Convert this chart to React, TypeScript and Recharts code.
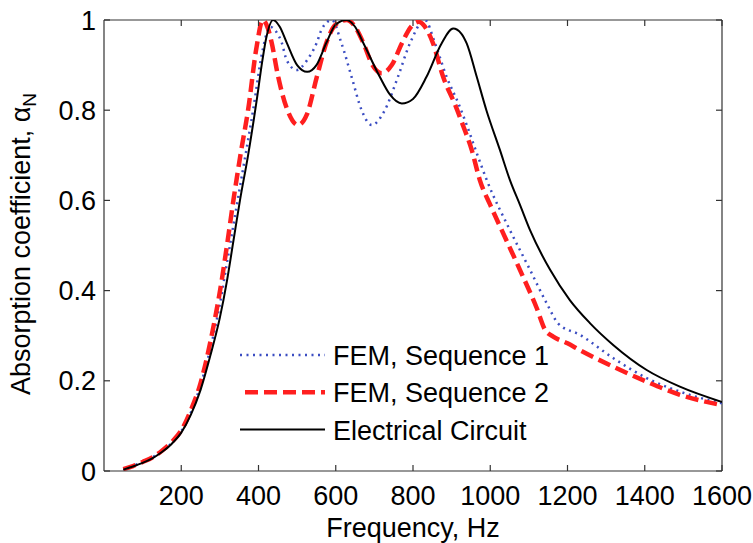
import React from 'react';
import { LineChart, Line, XAxis, YAxis, Legend, ReferenceLine } from 'recharts';

// ---- Data ----
const seq1Freq = [50, 75, 100, 125, 150, 175, 200, 225, 250, 275, 300, 320, 350, 386, 410, 430, 445, 460, 473, 499, 525, 551, 564, 590, 615, 641, 667, 693, 727, 761, 792, 831, 857, 887, 920, 940, 965, 991, 1051, 1103, 1146, 1176, 1232, 1319, 1405, 1491, 1600];
const seq1Alpha = [0.004, 0.011, 0.02, 0.03, 0.044, 0.062, 0.088, 0.13, 0.19, 0.27, 0.37, 0.47, 0.62, 0.8, 0.93, 0.985, 0.975, 0.95, 0.911, 0.889, 0.91, 0.95, 0.98, 1.0, 0.948, 0.874, 0.8, 0.767, 0.8, 0.874, 0.948, 1.0, 0.948, 0.874, 0.81, 0.765, 0.705, 0.645, 0.534, 0.446, 0.372, 0.327, 0.302, 0.25, 0.206, 0.176, 0.15];

const seq2Freq = [50, 75, 100, 125, 150, 175, 200, 225, 250, 275, 305, 320, 335, 355, 373, 395, 411, 425, 434, 451, 475, 502, 525, 551, 576, 600, 628, 650, 671, 695, 719, 745, 771, 795, 814, 835, 852, 878, 910, 930, 952, 973, 1000, 1040, 1080, 1120, 1142, 1163, 1200, 1232, 1319, 1405, 1491, 1600];
const seq2Alpha = [0.004, 0.011, 0.02, 0.03, 0.045, 0.064, 0.09, 0.135, 0.195, 0.285, 0.424, 0.51, 0.6, 0.71, 0.8, 0.94, 1.0, 0.98, 0.95, 0.874, 0.8, 0.767, 0.79, 0.874, 0.95, 0.99, 1.0, 0.985, 0.95, 0.9, 0.882, 0.9, 0.948, 0.985, 0.996, 0.98, 0.948, 0.874, 0.81, 0.765, 0.712, 0.645, 0.59, 0.515, 0.44, 0.362, 0.313, 0.298, 0.283, 0.268, 0.231, 0.198, 0.169, 0.146];

const circuitFreq = [50, 75, 100, 125, 150, 175, 200, 225, 250, 275, 300, 318, 335, 352, 373, 395, 410, 420, 438, 455, 473, 500, 526, 550, 576, 600, 628, 650, 672, 714, 740, 771, 800, 835, 874, 904, 925, 939, 965, 990, 1025, 1051, 1077, 1103, 1155, 1206, 1258, 1319, 1405, 1491, 1600];
const circuitAlpha = [0.003, 0.01, 0.018, 0.028, 0.042, 0.06, 0.085, 0.125, 0.18, 0.255, 0.34, 0.42, 0.51, 0.6, 0.7, 0.82, 0.91, 0.96, 1.0, 0.985, 0.95, 0.9, 0.885, 0.9, 0.95, 0.99, 1.0, 0.985, 0.948, 0.874, 0.835, 0.815, 0.825, 0.874, 0.948, 0.981, 0.97, 0.948, 0.874, 0.8, 0.712, 0.645, 0.59, 0.534, 0.446, 0.379, 0.328, 0.279, 0.224, 0.187, 0.153];

const xTicks = [200, 400, 600, 800, 1000, 1200, 1400, 1600];
const yTicks = [0, 0.2, 0.4, 0.6, 0.8, 1];
const yTickLabels = ['0', '0.2', '0.4', '0.6', '0.8', '1'];
const seriesNames = ['FEM, Sequence 1', 'FEM, Sequence 2', 'Electrical Circuit'];

// ---- Layout & styling ----
const W = 753;
const H = 543;
const PLOT_LEFT = 104;
const PLOT_TOP = 20;
const PLOT_RIGHT = 722;
const PLOT_BOTTOM = 471;
const TICK_LEN = 6;
const FONT = '"Liberation Sans", Arial, Helvetica, sans-serif';
const FS = 27;
const AXIS_COLOR = '#333';
const seriesStyles = [
  { color: '#3b4dc2', width: 2.5, dash: '2 4.5' },
  { color: '#ff1f1f', width: 4.5, dash: '13 6' },
  { color: '#000000', width: 2, dash: undefined as string | undefined },
];

const toPoints = (f: number[], a: number[]) => f.map((x, i) => ({ f: x, a: a[i] }));
const seriesData = [
  toPoints(seq1Freq, seq1Alpha),
  toPoints(seq2Freq, seq2Alpha),
  toPoints(circuitFreq, circuitAlpha),
];

// Bottom axis tick: label + inward ticks on bottom and top edges
const XTick = (p: any) => {
  const x = p.x;
  return (
    <g>
      <line x1={x} x2={x} y1={PLOT_BOTTOM} y2={PLOT_BOTTOM - TICK_LEN} stroke={AXIS_COLOR} strokeWidth={1.2} />
      <line x1={x} x2={x} y1={PLOT_TOP} y2={PLOT_TOP + TICK_LEN} stroke={AXIS_COLOR} strokeWidth={1.2} />
      <text x={x} y={PLOT_BOTTOM + 34} textAnchor="middle" fontSize={FS} fill="#000" style={{ fontFamily: FONT }}>
        {p.payload.value}
      </text>
    </g>
  );
};

// Left axis tick: label + inward ticks on left and right edges
const YTick = (p: any) => {
  const y = p.y;
  const v = p.payload.value;
  const label = yTickLabels[yTicks.indexOf(v)] ?? String(v);
  return (
    <g>
      <line x1={PLOT_LEFT} x2={PLOT_LEFT + TICK_LEN} y1={y} y2={y} stroke={AXIS_COLOR} strokeWidth={1.2} />
      <line x1={PLOT_RIGHT} x2={PLOT_RIGHT - TICK_LEN} y1={y} y2={y} stroke={AXIS_COLOR} strokeWidth={1.2} />
      <text x={PLOT_LEFT - 8} y={y + 9.5} textAnchor="end" fontSize={FS} fill="#000" style={{ fontFamily: FONT }}>
        {label}
      </text>
    </g>
  );
};

const LegendBox = () => (
  <svg width={340} height={115} style={{ fontFamily: FONT }}>
    {seriesNames.map((name, i) => {
      const cy = 20 + i * 37.3;
      const st = seriesStyles[i];
      return (
        <g key={name}>
          <line
            x1={i === 1 ? 10 : 5}
            x2={90}
            y1={cy}
            y2={cy}
            stroke={st.color}
            strokeWidth={st.width}
            strokeDasharray={st.dash}
          />
          <text x={98} y={cy + 10} fontSize={FS} fill="#000">
            {name}
          </text>
        </g>
      );
    })}
  </svg>
);

const YLabel = () => (
  <text
    x={30}
    y={244}
    transform="rotate(-90, 30, 244)"
    textAnchor="middle"
    fontSize={FS}
    fill="#000"
    style={{ fontFamily: FONT }}
  >
    Absorption coefficient, α
    <tspan fontSize={19} dy={6}>N</tspan>
  </text>
);

const axisLine = { stroke: AXIS_COLOR, strokeWidth: 1.2 };

export default function App() {
  return (
    <div style={{ position: 'absolute', left: 0, top: 0, width: W, height: H, background: '#fff' }}>
      <LineChart
        width={W}
        height={H}
        margin={{ top: PLOT_TOP, right: W - PLOT_RIGHT, bottom: 0, left: 0 }}
        style={{ fontFamily: FONT }}
      >
        <XAxis
          xAxisId="b"
          dataKey="f"
          type="number"
          domain={[0, 1600]}
          ticks={xTicks}
          allowDataOverflow
          orientation="bottom"
          height={H - PLOT_BOTTOM}
          tickLine={false}
          tickSize={0}
          axisLine={axisLine}
          tick={XTick}
          interval={0}
          label={{ value: 'Frequency, Hz', position: 'insideBottom', offset: 6, fill: '#000', fontSize: FS }}
        />
        <YAxis
          yAxisId="l"
          type="number"
          domain={[0, 1]}
          ticks={yTicks}
          allowDataOverflow
          orientation="left"
          width={PLOT_LEFT}
          tickLine={false}
          tickSize={0}
          axisLine={axisLine}
          tick={YTick}
          interval={0}
          label={YLabel}
        />
        <ReferenceLine xAxisId="b" yAxisId="l" x={1600} stroke={AXIS_COLOR} strokeWidth={1.2} />
        <ReferenceLine xAxisId="b" yAxisId="l" y={1} stroke={AXIS_COLOR} strokeWidth={1.2} />
        {seriesData.map((d, i) => (
          <Line
            key={seriesNames[i]}
            data={d}
            dataKey="a"
            name={seriesNames[i]}
            xAxisId="b"
            yAxisId="l"
            type="monotone"
            stroke={seriesStyles[i].color}
            strokeWidth={seriesStyles[i].width}
            strokeDasharray={seriesStyles[i].dash}
            dot={false}
            activeDot={false}
            isAnimationActive={false}
          />
        ))}
        <Legend
          layout="horizontal"
          verticalAlign="middle"
          align="center"
          content={LegendBox}
          wrapperStyle={{ left: 235, top: 335, width: 340, height: 115 }}
        />
      </LineChart>
    </div>
  );
}
